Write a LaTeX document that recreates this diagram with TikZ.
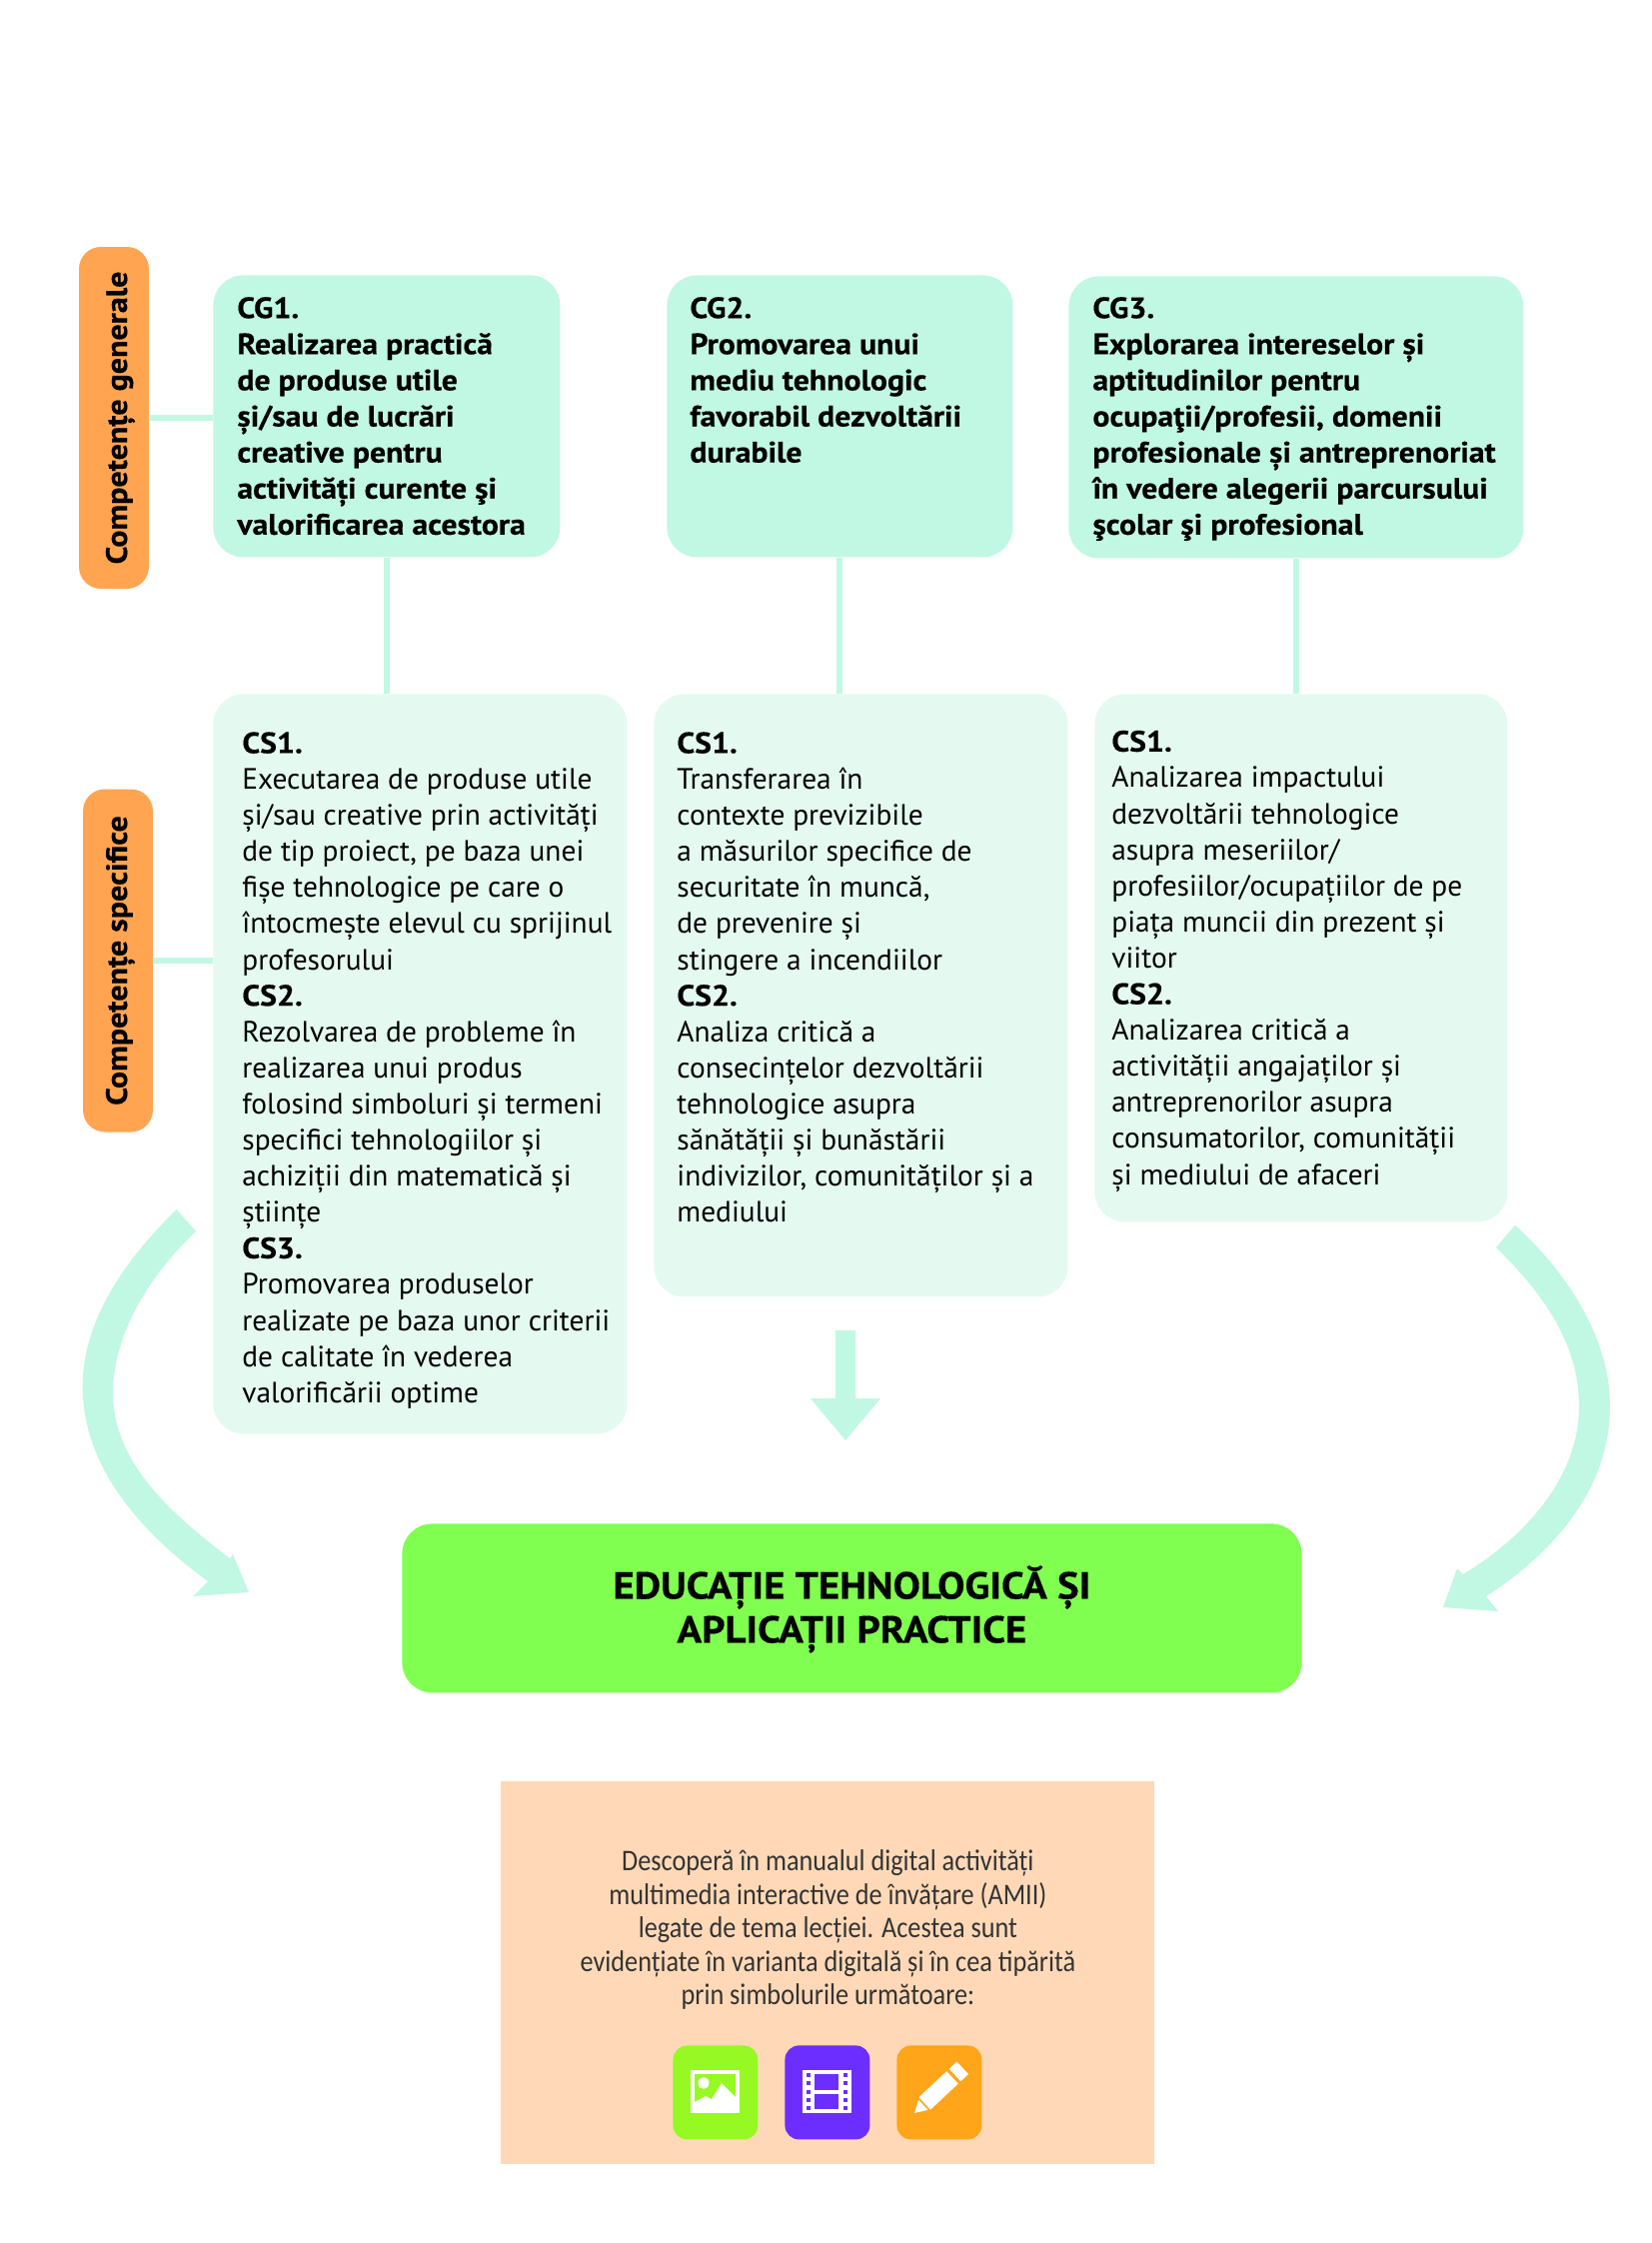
\documentclass[tikz,border=0pt]{standalone}
\usepackage{fontspec}
\setmainfont{PT Sans}[BoldFeatures={FakeStretch=1.08,FakeBold=0.4}]
\newfontfamily\notefont{Carlito}[FakeStretch=0.875]
\definecolor{cgfill}{HTML}{C1F8E3}
\definecolor{csfill}{HTML}{E4FAF0}
\definecolor{pillfill}{HTML}{FFA552}
\definecolor{titlefill}{HTML}{80FF50}
\definecolor{peach}{HTML}{FFD9B7}
\definecolor{icgreen}{HTML}{96F924}
\definecolor{icviolet}{HTML}{6C2EFF}
\definecolor{icorange}{HTML}{FFA519}
% #1 width, #2 height, #3 left offset, #4 first baseline, #5 text
\newcommand\tb[5]{\parbox[b][#2][t]{#1}{\fontsize{14.7}{18.05}\selectfont\raggedright\leftskip=#3\relax\rule{0pt}{#4}\ignorespaces #5}}
\tikzset{
  cgbox/.style={anchor=north west,inner sep=0pt,fill=cgfill,rounded corners=15pt,font=\bfseries},
  csbox/.style={anchor=north west,inner sep=0pt,fill=csfill,rounded corners=15pt},
  pill/.style={rotate=90,fill=pillfill,rounded corners=11pt,inner sep=0pt,minimum height=35pt,font=\fontsize{14.8}{18}\selectfont\bfseries,text=black},
  conn/.style={cgfill,line width=3pt},
  bigarrow/.style={fill=cgfill,draw=none},
  icon/.style={anchor=north west,inner sep=0pt,rounded corners=7pt,minimum width=42.5pt,minimum height=47pt}
}
\begin{document}
\begin{tikzpicture}[x=0.5pt,y=-0.5pt]
\useasboundingbox[fill=white] (0,0) rectangle (1653,2244);
% pills
\node[pill,minimum width=171pt] (pillg) at (114,418) {\raisebox{-6.5pt}[0pt][0pt]{Competențe generale}};
\node[pill,minimum width=171.5pt] (pills) at (118,961) {\raisebox{-4.5pt}[0pt][0pt]{Competențe specifice}};
% general competences
\node[cgbox] (cg1) at (213,275) {\tb{173.5pt}{141pt}{12pt}{21.4pt}{CG1.\\Realizarea practică\\de produse utile\\și/sau de lucrări\\creative pentru\\activități curente şi\\valorificarea acestora}};
\node[cgbox] (cg2) at (667,275) {\tb{173pt}{141pt}{11.5pt}{21.4pt}{CG2.\\Promovarea unui\\mediu tehnologic\\favorabil dezvoltării\\durabile}};
\node[cgbox] (cg3) at (1069,276) {\tb{227.5pt}{141pt}{12pt}{20.9pt}{CG3.\\Explorarea intereselor și\\aptitudinilor pentru\\ocupaţii/profesii, domenii\\profesionale și antreprenoriat\\în vedere alegerii parcursului\\şcolar şi profesional}};
% specific competences
\node[csbox] (cs1) at (213,694) {\tb{207pt}{370pt}{14.5pt}{29.5pt}{\textbf{CS1.}\\Executarea de produse utile\\și/sau creative prin activități\\de tip proiect, pe baza unei\\fișe tehnologice pe care o\\întocmește elevul cu sprijinul\\profesorului\\\textbf{CS2.}\\Rezolvarea de probleme în\\realizarea unui produs\\folosind simboluri și termeni\\specifici tehnologiilor și\\achiziții din matematică și\\științe\\\textbf{CS3.}\\Promovarea produselor\\realizate pe baza unor criterii\\de calitate în vederea\\valorificării optime}};
\node[csbox] (cs2) at (654,694) {\tb{207pt}{301.5pt}{11.5pt}{29.5pt}{\textbf{CS1.}\\Transferarea în\\contexte previzibile\\a măsurilor specifice de\\securitate în muncă,\\de prevenire și\\stingere a incendiilor\\\textbf{CS2.}\\Analiza critică a\\consecințelor dezvoltării\\tehnologice asupra\\sănătății și bunăstării\\indivizilor, comunităților și a\\mediului}};
\node[csbox] (cs3) at (1095,694) {\tb{206.5pt}{264pt}{8.5pt}{28.7pt}{\textbf{CS1.}\\Analizarea impactului\\dezvoltării tehnologice\\asupra meseriilor/\\profesiilor/ocupațiilor de pe\\piața muncii din prezent și\\viitor\\\textbf{CS2.}\\Analizarea critică a\\activității angajaților și\\antreprenorilor asupra\\consumatorilor, comunității\\și mediului de afaceri}};
% title
\node[anchor=north west,inner sep=0pt,fill=titlefill,rounded corners=15pt,font=\bfseries] (title) at (402,1524)
  {\parbox[b][84.5pt][t]{450pt}{\centering\fontsize{18.9}{22}\selectfont\rule{0pt}{37.5pt}EDUCAȚIE TEHNOLOGICĂ ȘI\\APLICAȚII PRACTICE}};
% note
\node[anchor=north west,inner sep=0pt,fill=peach] (note) at (501,1782)
  {\parbox[b][191.5pt][t]{327pt}{\centering\notefont\fontsize{15}{16.8}\selectfont\color{black!80}\rule{0pt}{44.5pt}Descoperă în manualul digital activități\\multimedia interactive de învățare (AMII)\\legate de tema lecției. Acestea sunt\\evidențiate în varianta digitală și în cea tipărită\\prin simbolurile următoare:}};
% connectors
\draw[conn] (pillg.south) -- (pillg.south -| cg1.west);
\draw[conn] (pills.south) -- (pills.south -| cs1.west);
\draw[conn] (cg1.south) -- (cg1.south |- cs1.north);
\draw[conn] (cg2.south) -- (cg2.south |- cs2.north);
\draw[conn] (cg3.south) -- (cg3.south |- cs3.north);
% big arrows
\fill[bigarrow] (836,1331) -- (856,1331) -- (856,1399) -- (881,1399) -- (846,1441) -- (811,1399) -- (836,1399) -- cycle;
\fill[bigarrow] (176.7,1210) .. controls (120,1265) and (82.7,1325) .. (82.7,1387)
  .. controls (82.7,1460) and (130,1525) .. (208,1582) -- (193,1597) -- (249,1593) -- (233,1555) -- (230,1559)
  .. controls (165,1510) and (113,1460) .. (113,1393) .. controls (113,1335) and (150,1275) .. (196,1232) -- cycle;
\fill[bigarrow] (1516,1225.7) .. controls (1570,1275) and (1611,1340) .. (1611,1407)
  .. controls (1611,1485) and (1560,1550) .. (1487,1597) -- (1499,1612) -- (1444,1608) -- (1458,1569) -- (1464,1575)
  .. controls (1530,1535) and (1580,1475) .. (1580,1407) .. controls (1580,1345) and (1545,1295) .. (1497,1248) -- cycle;
% icons
\begin{scope}[shift={(-2,-3)}]
\node[icon,fill=icgreen] (ic1) at (675,2049) {};
\node[icon,fill=icviolet] (ic2) at (787,2049) {};
\node[icon,fill=icorange] (ic3) at (899,2049) {};
% picture glyph
\fill[white] (693,2074) rectangle (742,2117);
\fill[icgreen] (697,2077.5) rectangle (738,2106);
\fill[white] (697,2108) -- (697,2106) -- (708,2100) -- (714,2103) -- (724,2087) -- (738,2101) -- (738,2108) -- cycle;
\fill[white] (706,2087) circle[x radius=5.5,y radius=6];
% film glyph
\fill[white] (805,2074) rectangle (854,2117);
\fill[icviolet] (817,2078) rectangle (841,2094);
\fill[icviolet] (817,2098) rectangle (841,2113);
\foreach \yy in {2079,2087,2096,2104,2112}{
  \fill[icviolet] (809,\yy-2) rectangle (813,\yy+2);
  \fill[icviolet] (846,\yy-2) rectangle (850,\yy+2);
}
% pencil glyph
\fill[white] (917,2117) -- (930.6,2113.9) -- (921,2103.7) -- cycle;
\draw[white,line width=8.5pt] (927.2,2107.4) -- (955,2081.4);
\draw[white,line width=8.5pt] (957.5,2079) -- (965.2,2071.8);
\end{scope}
\end{tikzpicture}
\end{document}
